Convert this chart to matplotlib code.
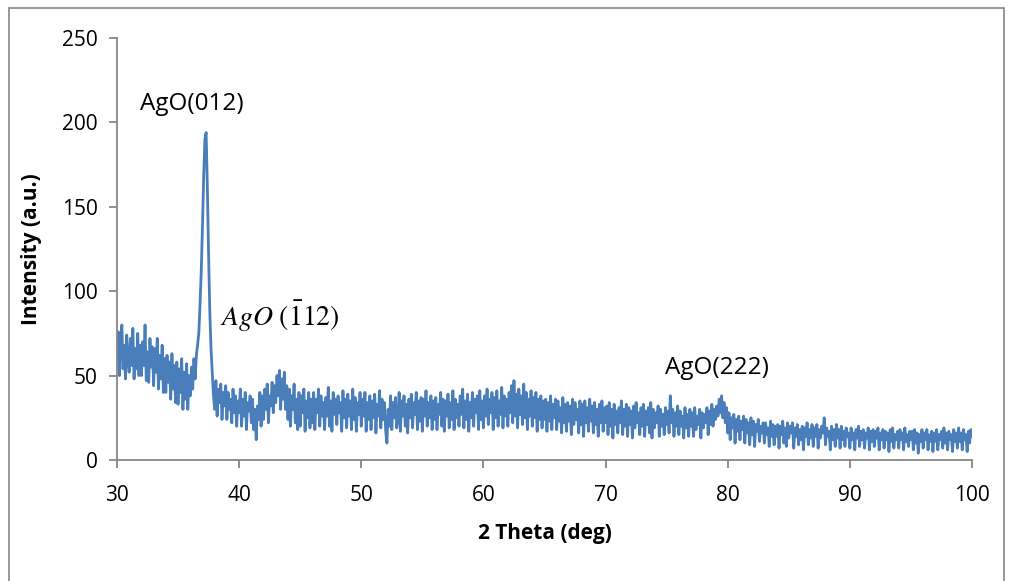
import numpy as np
import matplotlib.pyplot as plt
from matplotlib.patches import Rectangle

# XRD pattern, 2 theta from 30 to 100 deg in 0.1 deg steps
two_theta = np.arange(300, 1001) / 10
intensity = [
    58, 76, 50, 70, 80, 54, 68, 48, 74, 60,
    52, 72, 56, 78, 48, 66, 54, 75, 50, 68,
    50, 70, 56, 80, 47, 64, 46, 72, 55, 67,
    44, 66, 52, 72, 42, 62, 48, 68, 40, 60,
    40, 62, 46, 58, 36, 63, 42, 56, 34, 58,
    33, 54, 40, 60, 30, 52, 36, 57, 30, 50,
    38, 55, 42, 60, 48, 62, 68, 75, 92, 112,
    138, 168, 190, 194, 162, 122, 88, 66, 52, 38,
    30, 47, 26, 42, 34, 45, 24, 40, 32, 44,
    24, 40, 30, 36, 22, 42, 28, 38, 20, 35,
    28, 42, 20, 36, 26, 40, 18, 34, 29, 38,
    22, 36, 18, 30, 12, 32, 24, 40, 20, 38,
    24, 42, 30, 45, 22, 38, 32, 46, 28, 44,
    34, 50, 38, 53, 30, 48, 36, 52, 30, 44,
    24, 42, 20, 38, 30, 45, 22, 36, 18, 40,
    20, 38, 28, 42, 17, 35, 25, 40, 19, 36,
    22, 40, 18, 36, 28, 42, 20, 38, 26, 34,
    18, 37, 26, 43, 20, 35, 17, 40, 27, 36,
    21, 38, 28, 34, 17, 41, 25, 36, 19, 39,
    26, 35, 18, 42, 24, 37, 17, 34, 27, 40,
    20, 36, 26, 40, 17, 34, 24, 38, 18, 35,
    25, 39, 16, 33, 26, 41, 19, 36, 24, 34,
    17, 10, 30, 20, 38, 18, 34, 25, 37, 19,
    24, 40, 17, 35, 26, 38, 20, 33, 16, 36,
    25, 39, 19, 34, 27, 40, 18, 35, 23, 37,
    17, 36, 26, 41, 20, 34, 25, 38, 18, 35,
    24, 37, 18, 33, 27, 40, 20, 36, 17, 35,
    26, 39, 19, 34, 24, 41, 18, 36, 25, 33,
    20, 38, 27, 42, 19, 35, 24, 39, 17, 34,
    25, 40, 20, 36, 28, 38, 18, 41, 24, 35,
    19, 38, 26, 42, 21, 36, 28, 40, 18, 37,
    25, 41, 20, 35, 27, 43, 19, 38, 26, 36,
    20, 40, 28, 44, 22, 47, 26, 39, 19, 42,
    27, 38, 21, 45, 25, 40, 18, 36, 26, 41,
    20, 37, 25, 40, 17, 36, 24, 38, 19, 35,
    24, 36, 17, 34, 23, 38, 18, 33, 25, 36,
    18, 35, 23, 31, 16, 37, 22, 33, 17, 34,
    23, 32, 15, 36, 21, 34, 24, 30, 16, 35,
    21, 33, 14, 35, 22, 31, 17, 36, 23, 32,
    16, 34, 21, 30, 14, 33, 22, 35, 17, 31,
    22, 32, 15, 34, 20, 30, 13, 33, 21, 29,
    16, 31, 22, 35, 15, 30, 20, 33, 14, 31,
    21, 29, 13, 32, 19, 34, 22, 28, 15, 31,
    20, 33, 14, 29, 21, 31, 16, 34, 13, 30,
    19, 28, 22, 32, 14, 30, 20, 27, 15, 31,
    21, 29, 16, 38, 22, 30, 14, 28, 20, 32,
    15, 29, 20, 26, 13, 31, 19, 27, 14, 30,
    20, 28, 14, 31, 18, 26, 21, 30, 13, 28,
    19, 27, 22, 31, 15, 29, 21, 33, 20, 30,
    24, 32, 26, 36, 28, 38, 25, 34, 22, 31,
    16, 28, 12, 25, 19, 27, 10, 24, 17, 26,
    12, 23, 18, 26, 10, 24, 16, 22, 9, 25,
    15, 23, 8, 21, 17, 24, 11, 20, 16, 22,
    10, 22, 15, 19, 8, 23, 14, 21, 9, 20,
    14, 21, 7, 20, 15, 23, 10, 19, 8, 22,
    13, 20, 16, 22, 7, 19, 14, 21, 9, 18,
    12, 20, 6, 19, 14, 22, 9, 18, 13, 21,
    8, 19, 14, 21, 7, 18, 13, 20, 16, 25,
    9, 19, 14, 17, 6, 20, 12, 18, 8, 21,
    13, 18, 7, 20, 12, 17, 8, 19, 14, 16,
    7, 19, 12, 16, 6, 18, 13, 20, 8, 17,
    12, 18, 7, 16, 13, 19, 6, 17, 11, 18,
    8, 17, 13, 19, 6, 16, 12, 18, 7, 17,
    12, 16, 5, 18, 11, 19, 7, 15, 12, 17,
    7, 18, 12, 16, 6, 19, 11, 15, 8, 17,
    12, 17, 6, 18, 10, 16, 4, 15, 11, 18,
    7, 16, 12, 18, 6, 15, 11, 17, 5, 16,
    11, 18, 6, 15, 12, 17, 7, 19, 10, 16,
    6, 17, 12, 15, 5, 18, 11, 16, 7, 19,
    11, 16, 6, 18, 12, 15, 5, 17, 10, 18,
    14,
]

peak_labels = ['AgO(012)', r'$AgO\ (\bar{1}12)$', 'AgO(222)']
peak_pos = [(36.1, 211), (38.4, 85), (79.1, 54.5)]

plt.rcParams['font.family'] = ['Open Sans', 'DejaVu Sans']
plt.rcParams['mathtext.fontset'] = 'stix'
grey = '#868686'

fig = plt.figure(figsize=(10.1, 5.81), dpi=100)
ax = fig.add_axes([0.1158, 0.2083, 0.8466, 0.7263])

ax.plot(two_theta, intensity, color='#4A7EBB', linewidth=2.0)

ax.set_xlim(30, 100)
ax.set_ylim(0, 250)
ax.set_xticks(range(30, 101, 10))
ax.set_yticks(range(0, 251, 50))
for s in ['top', 'right']:
    ax.spines[s].set_visible(False)
for s in ['left', 'bottom']:
    ax.spines[s].set_color(grey)
    ax.spines[s].set_linewidth(1.3)
ax.tick_params(colors=grey, labelcolor='black', labelsize=15, length=6, width=1.3)
ax.tick_params(axis='x', pad=12)
ax.tick_params(axis='y', pad=8)

ax.set_xlabel('2 Theta (deg)', fontsize=15, fontweight='bold', labelpad=12)
ax.set_ylabel('Intensity (a.u.)', fontsize=15, fontweight='bold', labelpad=14)

ax.text(peak_pos[0][0], peak_pos[0][1], peak_labels[0], fontsize=17.5, ha='center', va='center')
ax.text(peak_pos[1][0], peak_pos[1][1], peak_labels[1], fontsize=20, ha='left', va='center')
ax.text(peak_pos[2][0], peak_pos[2][1], peak_labels[2], fontsize=17.5, ha='center', va='center')

# chart border like the Excel frame
fig.patches.append(Rectangle((9/1010, -0.02), 995/1010, 1.0 - 8/581 + 0.02,
                             transform=fig.transFigure, fill=False,
                             edgecolor=grey, linewidth=1.2))

plt.savefig('out.png', dpi=100)
